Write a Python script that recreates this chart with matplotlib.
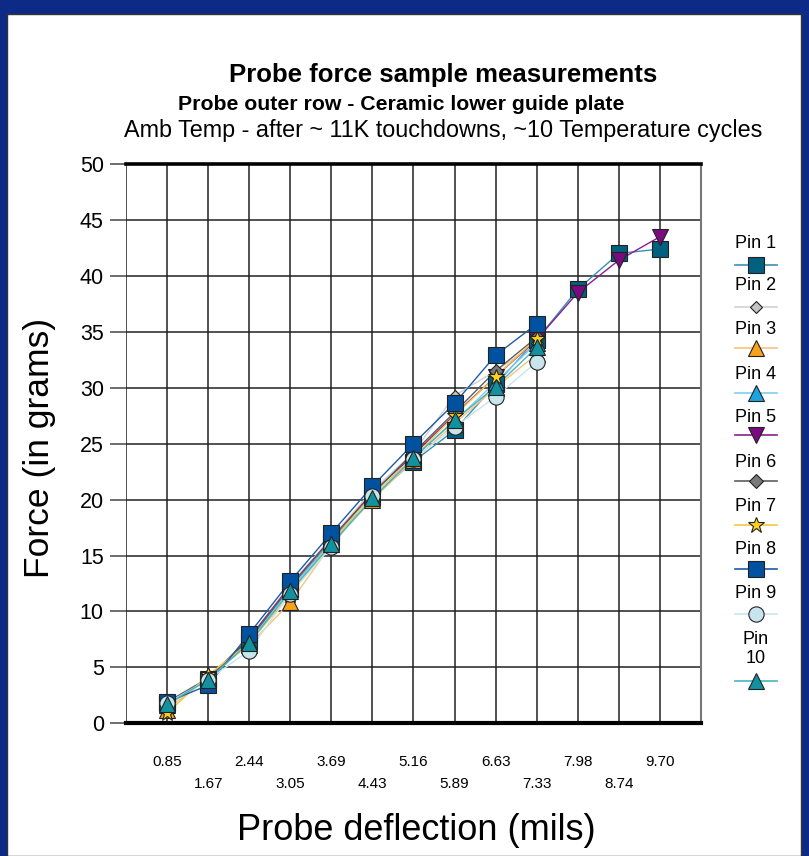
import matplotlib
matplotlib.use("Agg")
import matplotlib.pyplot as plt
from matplotlib.patches import Rectangle
from matplotlib.lines import Line2D

plt.rcParams['font.family'] = ['Liberation Sans', 'DejaVu Sans']

# ---------------- data ----------------
categories = ["0.85", "1.67", "2.44", "3.05", "3.69", "4.43", "5.16",
              "5.89", "6.63", "7.33", "7.98", "8.74", "9.70"]
pin_names = ["Pin 1", "Pin 2", "Pin 3", "Pin 4", "Pin 5",
             "Pin 6", "Pin 7", "Pin 8", "Pin 9", "Pin\n10"]

pin1 = [1.8, 3.9, 7.4, 12.0, 16.3, 20.2, 23.4, 26.2, 30.3, 34.3, 38.8, 42.0, 42.4]
pin2 = [1.9, 4.1, 7.6, 12.4, 16.6, 20.8, 24.2, 29.3, 31.5, 34.0]
pin3 = [1.2, 4.2, 7.0, 10.8, 16.0, 20.0, 23.5, 26.8, 30.0, 33.0]
pin4 = [1.6, 3.9, 7.3, 12.0, 16.2, 20.3, 23.8, 27.0, 30.5, 34.0]
pin5 = [1.8, 4.0, 7.6, 12.3, 16.5, 20.6, 24.0, 27.6, 31.0, 34.3, 38.5, 41.4, 43.5]
pin6 = [1.9, 4.0, 7.5, 12.2, 16.5, 20.5, 24.2, 27.8, 31.5, 34.5]
pin7 = [0.9, 4.3, 7.2, 11.5, 16.2, 20.4, 23.8, 27.5, 31.0, 34.4]
pin8 = [1.9, 3.4, 8.0, 12.7, 17.0, 21.2, 25.0, 28.6, 32.9, 35.7]
pin9 = [1.8, 3.9, 6.5, 11.6, 15.8, 20.3, 23.6, 26.5, 29.2, 32.3]
pin10 = [1.7, 3.9, 7.2, 11.8, 16.0, 20.1, 23.7, 27.1, 30.1, 33.6]
series = [pin1, pin2, pin3, pin4, pin5, pin6, pin7, pin8, pin9, pin10]

y_ticks = [0, 5, 10, 15, 20, 25, 30, 35, 40, 45, 50]

# ---------------- styles ----------------
markers = ['s', 'D', '^', '^', 'v', 'D', '*', 's', 'o', '^']
msizes = [11.5, 6.5, 11, 11, 11, 7, 12, 11.5, 11, 11]
face_colors = ['#00607f', '#c4c4c4', '#f7a21b', '#1ea3e0', '#7a0a80',
               '#7a7a7a', '#ffd11a', '#0052a0', '#c8e4ec', '#12929e']
line_colors = ['#3a8fb5', '#d2d2d2', '#f9c27c', '#7fcdef', '#8a1e8f',
               '#5e5e5e', '#f5c842', '#1d5ba3', '#c8e4ec', '#45b5c0']

W, H = 809, 856
fig = plt.figure(figsize=(W / 100, H / 100), dpi=100)
fig.patch.set_facecolor('#0d2b86')

bg = fig.add_axes([0, 0, 1, 1], zorder=-10)
bg.set_xlim(0, W)
bg.set_ylim(H, 0)
bg.axis('off')
bg.add_patch(Rectangle((7, 14), 801 - 7, H - 14, facecolor='white',
                       edgecolor='#333333', linewidth=1.0))

ax_l, ax_r, ax_t, ax_b = 126, 701, 164, 723.3
ax = fig.add_axes([ax_l / W, (H - ax_b) / H, (ax_r - ax_l) / W, (ax_b - ax_t) / H], zorder=1)
ax.set_facecolor('white')

xs = list(range(len(categories)))
for vals, lc in zip(series, line_colors):
    ax.plot(xs[:len(vals)], vals, color=lc, lw=1.0, zorder=2)
for i, (vals, m, ms, fc) in enumerate(zip(series, markers, msizes, face_colors)):
    ax.plot(xs[:len(vals)], vals, linestyle='none', marker=m, markersize=ms,
            markerfacecolor=fc, markeredgecolor='#222222', markeredgewidth=0.8,
            zorder=3 + i)

ax.set_xlim(-1, len(categories))
ax.set_ylim(0, 50)
ax.set_xticks(range(-1, len(categories) + 1))
ax.set_xticklabels([])
ax.tick_params(axis='x', length=0)
ax.set_yticks(y_ticks)
ax.set_yticklabels([str(v) for v in y_ticks], fontsize=15.5)
ax.tick_params(axis='y', length=11.5, width=1.2, color='#555555', pad=4.5)
ax.grid(True, color='#222222', linewidth=1.1)
ax.set_axisbelow(True)
ax.spines['left'].set_visible(False)
ax.spines['top'].set_linewidth(2.6)
ax.spines['top'].set_color('black')
ax.spines['bottom'].set_linewidth(3.0)
ax.spines['bottom'].set_color('black')
ax.spines['right'].set_color('#777777')
ax.spines['right'].set_linewidth(1.5)

for i, lab in enumerate(categories):
    off = 39 if i % 2 == 0 else 61
    ax.annotate(lab, xy=(i, 0), xycoords=('data', 'axes fraction'),
                xytext=(0, -off * 0.72), textcoords='offset points',
                ha='center', va='center', fontsize=11)

fig.text(416 / W, 1 - 830 / H, "Probe deflection (mils)", ha='center', va='center', fontsize=26)
fig.text(40 / W, 1 - 448 / H, "Force (in grams)", ha='center', va='center',
         fontsize=25.5, rotation=90)

fig.text(443 / W, 1 - 75 / H, "Probe force sample measurements", ha='center',
         va='center', fontsize=18.5, fontweight='bold')
fig.text(401 / W, 1 - 104 / H, "Probe outer row - Ceramic lower guide plate", ha='center',
         va='center', fontsize=15.3, fontweight='bold')
fig.text(443 / W, 1 - 130 / H, "Amb Temp - after ~ 11K touchdowns, ~10 Temperature cycles",
         ha='center', va='center', fontsize=16.8)

# legend (drawn manually in a pixel-coordinate axes)
lg = fig.add_axes([0, 0, 1, 1], facecolor='none', zorder=5)
lg.set_xlim(0, W)
lg.set_ylim(H, 0)
lg.axis('off')
text_y = [243, 286, 330, 374, 417, 462, 506, 550, 594, 649]
mark_y = [265, 307, 348, 393, 435, 481, 525, 569, 614, 681]
for name, ty, my, m, ms, fc, lc in zip(pin_names, text_y, mark_y, markers, msizes,
                                       face_colors, line_colors):
    lg.text(756, ty, name, ha='center', va='center', fontsize=13, linespacing=1.15)
    lg.add_line(Line2D([735, 777], [my, my], color=lc, lw=1.2))
    lg.add_line(Line2D([756], [my], linestyle='none', marker=m, markersize=ms,
                       markerfacecolor=fc, markeredgecolor='#222222',
                       markeredgewidth=0.8))

fig.savefig("out.png", dpi=100, facecolor=fig.get_facecolor())
